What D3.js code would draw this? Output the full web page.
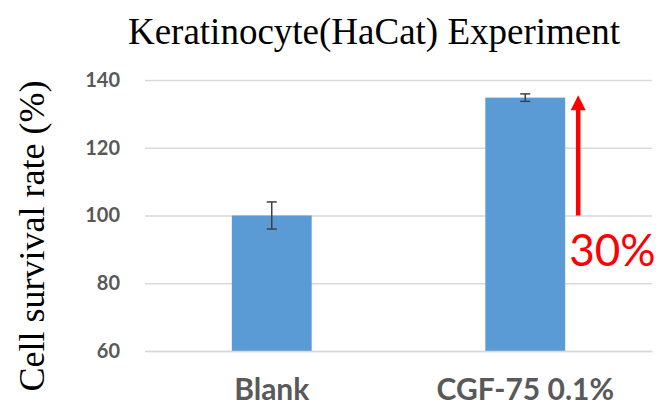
<!DOCTYPE html>
<html><head><meta charset="utf-8">
<script src="https://cdn.jsdelivr.net/npm/d3@7"></script>
<style>body{margin:0;background:#fff}</style>
</head><body>
<script>
const categories = ["Blank", "CGF-75 0.1%"];
const values = [100, 134.8];
const errors = [4, 1.1];
const yTicks = [60, 80, 100, 120, 140];
const arrowFrom = 100, arrowTo = 135.5;
const annotation = "30%";
const title = "Keratinocyte(HaCat) Experiment";
const yLabel = "Cell survival rate (%)";

const W = 664, H = 408;
const m = {left: 145, right: 12, top: 80, bottom: 57};
const svg = d3.select("body").append("svg").attr("width", W).attr("height", H);

const x = d3.scaleBand().domain(categories).range([m.left, W - m.right]).paddingInner(0.685).paddingOuter(0.3425);
const y = d3.scaleLinear().domain([60, 140]).range([H - m.bottom, m.top]);

// gridlines
const yAxis = d3.axisLeft(y).tickValues(yTicks).tickSize(-(W - m.left - m.right)).tickPadding(25);
const ga = svg.append("g").attr("transform", `translate(${m.left},0)`).call(yAxis);
ga.select(".domain").remove();
ga.selectAll(".tick line").attr("stroke", "#d9d9d9").attr("stroke-width", 1.3);
ga.selectAll(".tick text").attr("fill", "#595959").attr("font-family", "Lato, 'Open Sans', sans-serif")
  .attr("font-weight", "bold").attr("font-size", 20);

// bars
svg.selectAll("rect.bar").data(values).join("rect").attr("class", "bar")
  .attr("x", (d, i) => x(categories[i])).attr("width", x.bandwidth())
  .attr("y", d => y(d)).attr("height", d => y(60) - y(d)).attr("fill", "#5b9bd5");

// x axis
const xAxis = d3.axisBottom(x).tickSize(0).tickPadding(28);
const gx = svg.append("g").attr("transform", `translate(0,${y(60)})`).call(xAxis);
gx.select(".domain").attr("stroke", "#d9d9d9").attr("stroke-width", 1.3);
gx.selectAll(".tick text").attr("fill", "#595959").attr("font-family", "Lato, 'Open Sans', sans-serif")
  .attr("font-weight", "bold").attr("font-size", 30);

// error bars
const eb = svg.append("g").attr("stroke", "#404040").attr("stroke-width", 1.5);
values.forEach((v, i) => {
  const cx = x(categories[i]) + x.bandwidth() / 2;
  eb.append("line").attr("x1", cx).attr("x2", cx).attr("y1", y(v - errors[i])).attr("y2", y(v + errors[i]));
  eb.append("line").attr("x1", cx - 5).attr("x2", cx + 5).attr("y1", y(v - errors[i])).attr("y2", y(v - errors[i]));
  eb.append("line").attr("x1", cx - 5).attr("x2", cx + 5).attr("y1", y(v + errors[i])).attr("y2", y(v + errors[i]));
});

// arrow
const ax = x(categories[1]) + x.bandwidth() + 13;
const headH = 15;
svg.append("line").attr("x1", ax).attr("x2", ax).attr("y1", y(arrowFrom)).attr("y2", y(arrowTo) + headH - 1)
  .attr("stroke", "#ff0000").attr("stroke-width", 4.5);
svg.append("path").attr("fill", "#ff0000")
  .attr("d", `M${ax},${y(arrowTo)} L${ax - 7.5},${y(arrowTo) + headH} L${ax + 7.5},${y(arrowTo) + headH} Z`);
svg.append("text").attr("x", ax - 9).attr("y", y(100) + 50).text(annotation)
  .attr("fill", "#ff0000").attr("font-family", "Lato, 'Open Sans', sans-serif").attr("font-size", 44);

// title
svg.append("text").attr("x", 374).attr("y", 44).attr("text-anchor", "middle").text(title)
  .attr("font-family", "'Liberation Serif', 'Times New Roman', serif").attr("font-size", 37).attr("fill", "#000");

// y label
svg.append("text").attr("transform", `translate(44,${236}) rotate(-90)`).attr("text-anchor", "middle").text(yLabel)
  .attr("font-family", "'Liberation Serif', 'Times New Roman', serif").attr("font-size", 36).attr("fill", "#000");
</script>
</body></html>
